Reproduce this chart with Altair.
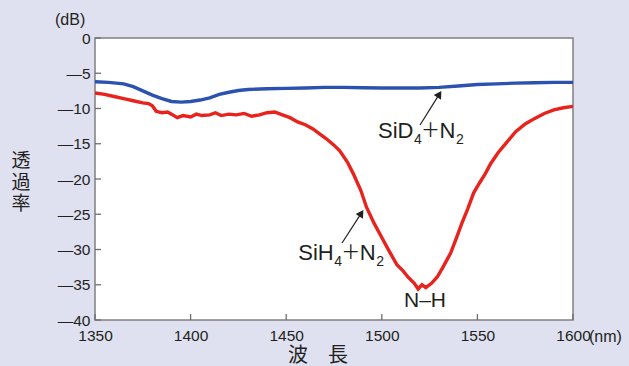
import altair as alt
import pandas as pd

# ---------------- data ----------------
blue_nm = [1350, 1357, 1365, 1370, 1375, 1380, 1385, 1390, 1395, 1400, 1405, 1410, 1415,
           1420, 1425, 1430, 1440, 1450, 1460, 1470, 1480, 1490, 1500, 1510, 1520, 1530,
           1540, 1550, 1560, 1570, 1580, 1590, 1600]
blue_db = [-6.2, -6.3, -6.5, -6.9, -7.5, -8.1, -8.6, -9.0, -9.1, -9.0, -8.8, -8.5, -8.0,
           -7.7, -7.45, -7.3, -7.2, -7.15, -7.1, -7.0, -7.0, -7.05, -7.1, -7.1, -7.1, -7.0,
           -6.8, -6.6, -6.5, -6.4, -6.35, -6.3, -6.3]

red_nm = [1350, 1355, 1360, 1365, 1370, 1375, 1378, 1380, 1382, 1385, 1388, 1390, 1393,
          1396, 1400, 1403, 1406, 1410, 1413, 1416, 1420, 1424, 1428, 1432, 1436, 1440,
          1444, 1448, 1452, 1456, 1460, 1464, 1468, 1471, 1475, 1478, 1482, 1485, 1489,
          1492, 1496, 1500, 1504, 1508, 1511, 1514, 1517, 1519, 1521, 1523, 1526, 1529,
          1532, 1536, 1539, 1542, 1545, 1548, 1551, 1554, 1557, 1561, 1565, 1570, 1575,
          1580, 1585, 1590, 1595, 1600]
red_db = [-7.8, -8.0, -8.3, -8.6, -8.9, -9.2, -9.3, -9.6, -10.4, -10.6, -10.5, -10.8, -11.3,
          -11.0, -11.2, -10.8, -11.0, -10.9, -10.6, -11.0, -10.8, -10.9, -10.7, -11.1, -10.9, -10.6,
          -10.5, -10.9, -11.3, -11.9, -12.3, -12.9, -13.7, -14.3, -15.2, -16.0, -17.6, -19.2, -21.6,
          -24.0, -26.3, -28.3, -30.3, -32.2, -33.0, -34.0, -34.8, -35.6, -35.0, -35.4, -34.8, -33.9,
          -32.5, -30.5, -28.4, -26.2, -24.2, -22.0, -20.6, -19.3, -17.8, -16.2, -14.9, -13.3, -12.2,
          -11.4, -10.7, -10.2, -9.9, -9.7]

series_names = ["SiD4+N2", "SiH4+N2"]
series_colors = ["#2c52b0", "#e8221c"]

x_ticks = [1350, 1400, 1450, 1500, 1550, 1600]
y_ticks = [0, -5, -10, -15, -20, -25, -30, -35, -40]

# annotation anchors (data units)
arrow_tail_nm = [1520.0, 1479.2]
arrow_tail_db = [-12.34, -29.08]
arrow_head_nm = [1530.1, 1489.3]
arrow_head_db = [-7.97, -24.85]
arrow_angle = [32, 33]

sid_label = {"nm": 1498.0, "db": -14.23}
sih_label = {"nm": 1456.3, "db": -31.49}
nh_label = {"nm": 1522.6, "db": -38.2}

# ---------------- build ----------------
W, H = 478, 282
LATIN = "Liberation Sans"
CJK = "Noto Sans CJK JP"
TXT = "#231f20"

df = pd.concat([
    pd.DataFrame({"nm": blue_nm, "db": blue_db, "series": series_names[0]}),
    pd.DataFrame({"nm": red_nm, "db": red_db, "series": series_names[1]}),
])

xs = alt.Scale(domain=[1350, 1600], nice=False, zero=False)
ys = alt.Scale(domain=[-40, 0], nice=False, zero=False)

x_axis = alt.Axis(values=x_ticks, ticks=False, domain=False, grid=False, title=None,
                  labelFont=LATIN, labelFontSize=15.5, labelColor=TXT, labelPadding=8,
                  labelFlush=False, labelOverlap=False, format="d")
y_axis = alt.Axis(values=y_ticks, ticks=False, domain=False, grid=False, title=None,
                  labelFont=LATIN, labelFontSize=15.5, labelColor=TXT, labelPadding=5,
                  labelOverlap=False, labelFlush=False,
                  labelExpr="datum.value < 0 ? '\u2014' + abs(datum.value) : datum.label")


def X(field):
    return alt.X(field, scale=xs, axis=x_axis)


def Y(field):
    return alt.Y(field, scale=ys, axis=y_axis)


lines = alt.Chart(df).mark_line(strokeWidth=3.4, clip=True).encode(
    x=X("nm:Q"),
    y=Y("db:Q"),
    color=alt.Color("series:N", scale=alt.Scale(domain=series_names, range=series_colors),
                    legend=None),
    detail="series:N",
)

ytick_df = pd.DataFrame({"v": y_ticks})
xtick_df = pd.DataFrame({"v": x_ticks})
yticks = alt.Chart(ytick_df).mark_rule(color="#6e6e6e", strokeWidth=1.3).encode(
    y=Y("v:Q"), x=alt.value(0), x2=alt.value(6))
xticks = alt.Chart(xtick_df).mark_rule(color="#6e6e6e", strokeWidth=1.3).encode(
    x=X("v:Q"), y=alt.value(H), y2=alt.value(H - 6))

arr_df = pd.DataFrame({"x": arrow_tail_nm, "y": arrow_tail_db,
                       "x2": arrow_head_nm, "y2": arrow_head_db, "a": arrow_angle})
arrows = alt.Chart(arr_df).mark_rule(color=TXT, strokeWidth=1.2).encode(
    x=X("x:Q"), y=Y("y:Q"), x2="x2:Q", y2="y2:Q")
heads = alt.Chart(arr_df).mark_point(shape="triangle-up", filled=True, color=TXT,
                                     size=75, opacity=1).encode(
    x=X("x2:Q"), y=Y("y2:Q"), angle=alt.Angle("a:Q", scale=None))


def piece(anchor, text, dx, dy, size, font=LATIN, align="left"):
    d = pd.DataFrame({"nm": [anchor["nm"]], "db": [anchor["db"]]})
    return alt.Chart(d).mark_text(text=text, dx=dx, dy=dy, fontSize=size, font=font,
                                  align=align, baseline="alphabetic", color=TXT).encode(
        x=X("nm:Q"), y=Y("db:Q"))


def chem(anchor, base):
    return [
        piece(anchor, base, 0, 0, 22),
        piece(anchor, "4", 36, 6, 14),
        piece(anchor, "\uff0b", 43, -1, 19, font=CJK),
        piece(anchor, "N", 61.5, 0, 22),
        piece(anchor, "2", 78, 6, 14),
    ]


labels = chem(sid_label, "SiD") + chem(sih_label, "SiH")
labels.append(piece(nh_label, "N\u2013H", 0, 0, 21, align="center"))

base_pos = pd.DataFrame({"k": [0]})
ytitle = alt.Chart(base_pos).mark_text(text=["透", "過", "率"], lineHeight=21.5, font=CJK,
                                        fontSize=19, color=TXT, align="center",
                                        baseline="middle").encode(
    x=alt.value(21 - 95), y=alt.value(161 - 38))
xtitle = alt.Chart(base_pos).mark_text(text="波\u3000長", font=CJK, fontSize=20, color=TXT,
                                        align="center", baseline="middle").encode(
    x=alt.value(318 - 95), y=alt.value(356 - 38))
db_unit = alt.Chart(base_pos).mark_text(text="(dB)", font=LATIN, fontSize=16, color=TXT,
                                         align="left", baseline="middle").encode(
    x=alt.value(55 - 95), y=alt.value(20 - 38))
nm_unit = alt.Chart(base_pos).mark_text(text="(nm)", font=LATIN, fontSize=16, color=TXT,
                                         align="left", baseline="middle").encode(
    x=alt.value(589 - 95), y=alt.value(337 - 38))

chart = alt.layer(lines, yticks, xticks, arrows, heads, *labels, ytitle, xtitle,
                  db_unit, nm_unit).properties(
    width=W, height=H,
    background="#e0e1f0",
    padding={"left": 95, "top": 38, "right": 56, "bottom": 46},
    autosize=alt.AutoSizeParams(type="none"),
).configure_view(stroke="#808080", strokeWidth=1.5, fill="white")

chart.save("out.html", embed_options={"renderer": "svg", "actions": False})
